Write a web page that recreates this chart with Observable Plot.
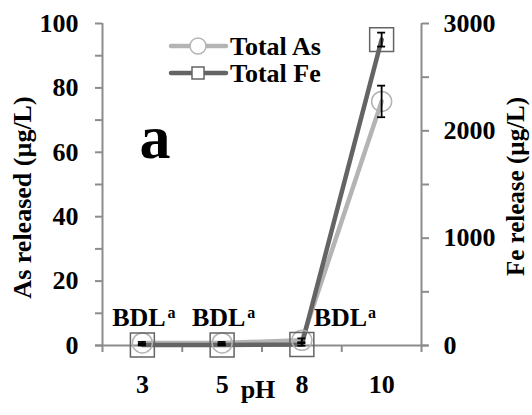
<!DOCTYPE html>
<html>
<head>
<meta charset="utf-8">
<script src="https://cdn.jsdelivr.net/npm/d3@7"></script>
<script src="https://cdn.jsdelivr.net/npm/@observablehq/plot@0.6"></script>
<style>
  body { margin: 0; background: #fff; }
  #wrap { position: relative; width: 532px; height: 415px; font-family: "Liberation Serif", serif; font-weight: bold; }
  #wrap text { font-family: "Liberation Serif", serif; font-weight: bold; }
  #legend { position: absolute; left: 165px; top: 30px; }
</style>
</head>
<body>
<div id="wrap"><div id="chart"></div><svg id="legend" width="180" height="62"></svg></div>
<script>
// pH categories and measured concentrations (µg/L)
const pH = ["3", "5", "8", "10"];
const totalAs = [0.8, 0.8, 1.6, 75.8];
const totalAsErr = [0.3, 0.3, 0.6, 4.9];
const totalFe = [5, 5, 10, 2850];
const totalFeErr = [4, 4, 12, 65];
// points reported below detection limit
const bdlCentered = ["3", "5"];
const bdlShifted = ["8"];
// axis ticks
const asTicks = [0, 10, 20, 30, 40, 50, 60, 70, 80, 90, 100];
const feTicks = [0, 500, 1000, 1500, 2000, 2500, 3000];

const asMax = 100, feMax = 3000;
const feScale = asMax / feMax; // Fe axis shares the plotting range with As

const AS_COLOR = "#b4b4b4";
const FE_COLOR = "#646464";
const AXIS_COLOR = "#8c8c8c";
const FONT = "'Liberation Serif', serif";
const FS = 26;

const pos = (p) => pH.indexOf(p) + 0.5;
const rows = pH.map((p, i) => ({
  pos: i + 0.5,
  as: totalAs[i], asErr: totalAsErr[i],
  fe: totalFe[i] * feScale, feErr: totalFeErr[i] * feScale
}));

const txt = {fontFamily: FONT, fontWeight: "bold", fill: "black"};
const err = {stroke: "black", strokeWidth: 1.8};
const cap = {x1: "pos", x2: "pos", insetLeft: -4, insetRight: -4, ...err};

const chart = Plot.plot({
  width: 532,
  height: 415,
  marginLeft: 102,
  marginRight: 111,
  marginTop: 23,
  marginBottom: 70,
  x: {type: "linear", domain: [0, pH.length]},
  y: {domain: [0, asMax]},
  style: {fontFamily: FONT, fontWeight: "bold", color: "black", background: "white"},
  marks: [
    // axis lines
    Plot.ruleX([0, pH.length], {stroke: AXIS_COLOR, strokeWidth: 2}),
    Plot.ruleY([0], {stroke: AXIS_COLOR, strokeWidth: 2, insetLeft: -7, insetRight: -7}),
    // left axis (As)
    Plot.axisY(asTicks, {anchor: "left", tickSize: 7, tickPadding: 17, stroke: AXIS_COLOR, strokeWidth: 2,
      fontSize: FS, ...txt, tickFormat: (d) => d % 20 === 0 ? String(d) : "", label: null}),
    // right axis (Fe)
    Plot.axisY(feTicks.map((v) => v * feScale), {anchor: "right", tickSize: 7, tickPadding: 15, stroke: AXIS_COLOR, strokeWidth: 2,
      fontSize: FS, ...txt, tickFormat: (d) => { const v = Math.round(d / feScale); return v % 1000 === 0 ? String(v) : ""; }, label: null}),
    // x category boundaries and labels
    Plot.axisX(d3.range(pH.length + 1), {anchor: "bottom", tickSize: 7, stroke: AXIS_COLOR, strokeWidth: 2, tickFormat: () => "", label: null}),
    Plot.axisX(rows.map((d) => d.pos), {anchor: "bottom", tickSize: 0, tickPadding: 29, fontSize: FS, ...txt,
      tickFormat: (d) => pH[Math.floor(d)], label: null}),
    // axis titles
    Plot.text(["pH"], {frameAnchor: "bottom", dx: -4, dy: 52, fontSize: FS, ...txt}),
    Plot.text(["As released (µg/L)"], {frameAnchor: "left", textAnchor: "middle", dx: -80, dy: 13, rotate: -90, fontSize: FS, ...txt}),
    Plot.text(["Fe release (µg/L)"], {frameAnchor: "right", textAnchor: "middle", dx: 94, dy: 2, rotate: -90, fontSize: 25, ...txt}),
    // panel letter
    Plot.text(["a"], {frameAnchor: "top-left", dx: 37, dy: 134, lineAnchor: "bottom", fontSize: 62, ...txt}),
    // BDL annotations
    Plot.text(bdlCentered, {x: pos, y: 0, text: () => "BDL", dx: -3.5, dy: -20, lineAnchor: "bottom", fontSize: FS, ...txt}),
    Plot.text(bdlCentered, {x: pos, y: 0, text: () => "a", dx: 25, dy: -28, textAnchor: "start", lineAnchor: "bottom", fontSize: 16, ...txt}),
    Plot.text(bdlShifted, {x: pos, y: 0, text: () => "BDL", dx: 38.5, dy: -20, lineAnchor: "bottom", fontSize: FS, ...txt}),
    Plot.text(bdlShifted, {x: pos, y: 0, text: () => "a", dx: 66, dy: -28, textAnchor: "start", lineAnchor: "bottom", fontSize: 16, ...txt}),
    // series lines
    Plot.line(rows, {x: "pos", y: "as", stroke: AS_COLOR, strokeWidth: 4.5}),
    Plot.line(rows, {x: "pos", y: "fe", stroke: FE_COLOR, strokeWidth: 4.5}),
    // markers
    Plot.dot(rows, {x: "pos", y: "as", symbol: "circle", r: 10, stroke: AS_COLOR, strokeWidth: 1.5, fill: "none"}),
    Plot.dot(rows, {x: "pos", y: "fe", symbol: "square", r: 13.5, stroke: FE_COLOR, strokeWidth: 1.5, fill: "none"}),
    // error bars
    Plot.ruleX(rows, {x: "pos", y1: (d) => d.as - d.asErr, y2: (d) => d.as + d.asErr, ...err}),
    Plot.ruleY(rows, {y: (d) => d.as - d.asErr, ...cap}),
    Plot.ruleY(rows, {y: (d) => d.as + d.asErr, ...cap}),
    Plot.ruleX(rows, {x: "pos", y1: (d) => d.fe - d.feErr, y2: (d) => d.fe + d.feErr, ...err}),
    Plot.ruleY(rows, {y: (d) => d.fe - d.feErr, ...cap}),
    Plot.ruleY(rows, {y: (d) => d.fe + d.feErr, ...cap})
  ]
});
document.getElementById("chart").append(chart);

// legend
const series = [
  {name: "Total As", color: AS_COLOR, symbol: "circle"},
  {name: "Total Fe", color: FE_COLOR, symbol: "square"}
];
const lg = d3.select("#legend");
series.forEach((s, i) => {
  const g = lg.append("g").attr("transform", `translate(0,${16 + i * 27})`);
  g.append("line").attr("x1", 6).attr("x2", 61).attr("stroke", s.color).attr("stroke-width", 4.5).attr("stroke-linecap", "round");
  if (s.symbol === "circle") {
    g.append("circle").attr("cx", 33).attr("r", 8).attr("fill", "white").attr("stroke", s.color).attr("stroke-width", 1.5);
  } else {
    g.append("rect").attr("x", 27).attr("y", -6).attr("width", 12).attr("height", 12).attr("fill", "white").attr("stroke", s.color).attr("stroke-width", 1.5);
  }
  g.append("text").attr("x", 65).attr("y", 9).attr("font-size", FS).text(s.name);
});
</script>
</body>
</html>
